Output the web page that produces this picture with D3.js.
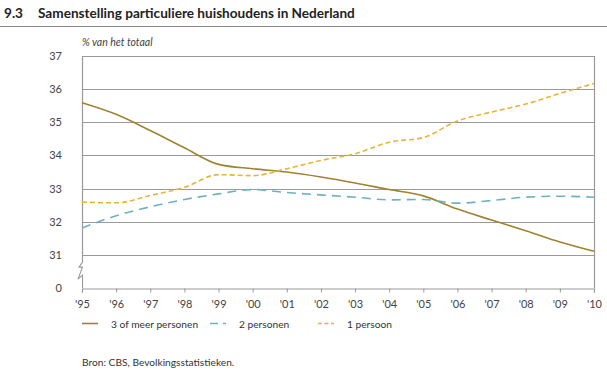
<!DOCTYPE html>
<html><head><meta charset="utf-8">
<script src="https://cdn.jsdelivr.net/npm/d3@7"></script>
<style>body{margin:0;background:#fff}svg{display:block;font-family:Lato,sans-serif}</style>
</head><body><svg id="c" width="607" height="380"></svg>
<script>
const years = ["'95","'96","'97","'98","'99","'00","'01","'02","'03","'04","'05","'06","'07","'08","'09","'10"];
const drieOfMeer = [35.59,35.24,34.75,34.23,33.73,33.6,33.5,33.35,33.17,32.97,32.78,32.38,32.05,31.73,31.39,31.11];
const tweePersonen = [31.81,32.18,32.45,32.67,32.84,32.97,32.88,32.81,32.74,32.66,32.67,32.56,32.64,32.74,32.77,32.74];
const eenPersoon = [32.59,32.57,32.79,33.04,33.42,33.39,33.6,33.85,34.05,34.4,34.54,35.04,35.31,35.55,35.87,36.17];
const yTicks = [31,32,33,34,35,36,37];
const seriesNames = ["3 of meer personen","2 personen","1 persoon"];

const svg = d3.select("#c");
const L=82,R=594,T=56,B=288;
const x = d3.scalePoint().domain(years).range([L,R]);
// broken axis: value 30 position represents "0"
const y = d3.scaleLinear().domain([30,37]).range([B,T]);

// title
svg.append("text").attr("x",4).attr("y",18).attr("font-size",13.6).attr("font-weight","bold").attr("fill","#222").text("9.3");
svg.append("text").attr("x",38).attr("y",18).attr("font-size",13.6).attr("font-weight","bold").attr("fill","#222").text("Samenstelling particuliere huishoudens in Nederland");
svg.append("line").attr("x1",0).attr("x2",607).attr("y1",26.5).attr("y2",26.5).attr("stroke","#888").attr("stroke-width",1);

svg.append("text").attr("x",82).attr("y",46).attr("font-size",10.5).attr("font-style","italic").attr("fill","#444").text("% van het totaal");

// gridlines
svg.append("g").selectAll("line").data(yTicks).join("line")
  .attr("x1",L).attr("x2",R).attr("y1",d=>Math.round(y(d))+0.5).attr("y2",d=>Math.round(y(d))+0.5)
  .attr("stroke","#9a9a9a").attr("stroke-width",1.2);
// right border
svg.append("line").attr("x1",R+0.5).attr("x2",R+0.5).attr("y1",T).attr("y2",B).attr("stroke","#9a9a9a").attr("stroke-width",1.2);
// bottom axis
const xa = svg.append("g").attr("transform",`translate(0,${B+0.5})`)
  .call(d3.axisBottom(x).tickSize(4).tickPadding(8));
xa.select(".domain").attr("stroke","#9a9a9a").attr("stroke-width",1.2);
xa.selectAll(".tick line").attr("stroke","#9a9a9a");
xa.selectAll("text").attr("font-size",11).attr("fill","#444").attr("font-family","Lato");
// left axis with break
const brk = y(30.75);
svg.append("line").attr("x1",L+0.5).attr("x2",L+0.5).attr("y1",T).attr("y2",brk-1).attr("stroke","#9a9a9a").attr("stroke-width",1.2);
svg.append("path").attr("d",`M${L+0.5},${brk-1} L${L-3},${brk+4} L${L+0.5},${brk+4} L${L-4},${brk+16} L${L+0.5},${brk+12} L${L+0.5},${B}`)
  .attr("fill","none").attr("stroke","#9a9a9a").attr("stroke-width",1.1);
// y labels
const yLabelVals = [30].concat(yTicks);
svg.append("g").selectAll("text").data(yLabelVals).join("text")
  .attr("x",62).attr("y",d=>y(d)+4).attr("text-anchor","end").attr("font-size",11).attr("fill","#444")
  .text(d=>d===30?"0":d);

const line = d3.line().x((d,i)=>x(years[i])).y(d=>y(d)).curve(d3.curveMonotoneX);
const styles = [
  {data:drieOfMeer,color:"#a08331",dash:null,w:1.6},
  {data:tweePersonen,color:"#6fb0c2",dash:"9,6",w:1.6},
  {data:eenPersoon,color:"#e6b43c",dash:"5,3",w:1.6}
];
styles.forEach(s=>{
  svg.append("path").attr("d",line(s.data)).attr("fill","none").attr("stroke",s.color)
    .attr("stroke-width",s.w).attr("stroke-dasharray",s.dash);
});

// legend
const lx=[82,210,318];
styles.forEach((s,i)=>{
  svg.append("line").attr("x1",lx[i]).attr("x2",lx[i]+16).attr("y1",323.5).attr("y2",323.5)
    .attr("stroke",s.color).attr("stroke-width",1.6).attr("stroke-dasharray",i===1?"8,5":(i===2?"4,2.5":null));
  svg.append("text").attr("x",lx[i]+29).attr("y",327.5).attr("font-size",10.2).attr("fill","#333").text(seriesNames[i]);
});

svg.append("text").attr("x",82).attr("y",366).attr("font-size",10.2).attr("fill","#333").text("Bron: CBS, Bevolkingsstatistieken.");
</script></body></html>
